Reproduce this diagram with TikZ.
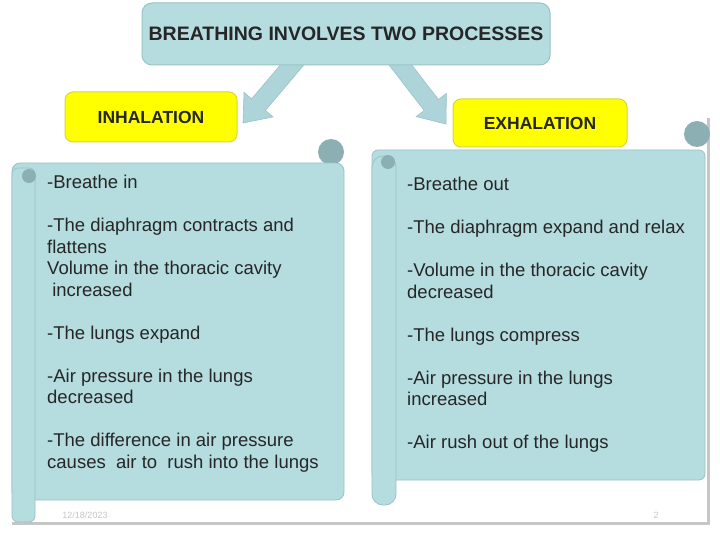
\documentclass[tikz,border=0pt]{standalone}
\usepackage{fontspec}
\setmainfont{Liberation Sans}
\usetikzlibrary{calc}
\definecolor{scrollfill}{HTML}{B5DCDF}
\definecolor{scrollline}{HTML}{9BC2C5}
\definecolor{curl}{HTML}{8BAFB2}
\definecolor{arrowfill}{HTML}{ADD4D8}
\definecolor{yel}{HTML}{FFFF00}
\definecolor{yelline}{HTML}{D6D640}
\definecolor{frame}{HTML}{C6C6C6}
\definecolor{txt}{HTML}{262626}
\tikzset{
  titlebox/.style={draw=scrollline, fill=scrollfill, rounded corners=10pt, line width=1pt,
    text=txt, font=\bfseries\fontsize{19.5}{22}\selectfont},
  ybox/.style={draw=yelline, fill=yel, rounded corners=8pt, line width=1pt,
    text=txt, font=\bfseries\fontsize{17.5}{20}\selectfont},
  scrollbody/.style={draw=scrollline, fill=scrollfill, line width=0.8pt},
  curlball/.style={fill=curl},
  bigarrow/.style={fill=arrowfill, draw=scrollline, line width=0.6pt},
  scrolltext/.style={anchor=north west, inner sep=0pt, align=left, text=txt,
    font=\fontsize{18.5}{21.5}\selectfont},
  footer/.style={text=frame, font=\fontsize{9}{10}\selectfont},
}
\begin{document}
\begin{tikzpicture}[x=1pt,y=-1pt]
\useasboundingbox (0,0) rectangle (720,540);
\fill[white] (0,0) rectangle (720,540);

% frame shadow
\draw[frame, line width=3pt] (12,523) -- (708,523) -- (708,118);

% arrows
\coordinate (s1) at (298,58);
\coordinate (e1) at (243,123);
\coordinate (h1) at ($(e1)!24pt!(s1)$);
\filldraw[bigarrow] ($(s1)!9pt!90:(e1)$) -- ($(h1)!9pt!90:(e1)$) -- ($(h1)!19pt!90:(e1)$) -- (e1)
  -- ($(h1)!19pt!-90:(e1)$) -- ($(h1)!9pt!-90:(e1)$) -- ($(s1)!9pt!-90:(e1)$) -- cycle;
\coordinate (s2) at (395,58);
\coordinate (e2) at (446,124);
\coordinate (h2) at ($(e2)!24pt!(s2)$);
\filldraw[bigarrow] ($(s2)!9pt!90:(e2)$) -- ($(h2)!9pt!90:(e2)$) -- ($(h2)!19pt!90:(e2)$) -- (e2)
  -- ($(h2)!19pt!-90:(e2)$) -- ($(h2)!9pt!-90:(e2)$) -- ($(s2)!9pt!-90:(e2)$) -- cycle;

% title
\node[titlebox, minimum width=408pt, minimum height=62pt] (title) at (346,34) {BREATHING INVOLVES TWO PROCESSES};

% yellow labels
\node[ybox, minimum width=172pt, minimum height=50pt] (inh) at (151,117) {INHALATION};
\node[ybox, minimum width=174pt, minimum height=48pt] (exh) at (540,123) {EXHALATION};

% left scroll
\fill[curlball] (331,152) circle (13);
\filldraw[scrollbody, rounded corners=8pt] (12,163) -- (344,163) -- (344,500) -- (12,500) -- cycle;
\filldraw[scrollbody, rounded corners=6pt] (12,168) rectangle (35,522);
\fill[curlball] (29,176) circle (7);

% right scroll
\fill[curlball] (697,134) circle (13);
\filldraw[scrollbody, rounded corners=6pt] (372,150) -- (705,150) -- (705,480) -- (372,480) -- cycle;
\filldraw[scrollbody, rounded corners=11pt] (372,156) rectangle (396,505);
\fill[curlball] (388,162) circle (7);

% texts
\node[scrolltext] (ltext) at (47,175) {-Breathe in\\[21.5pt]
-The diaphragm contracts and\\
flattens\\
Volume in the thoracic cavity\\
\ increased\\[21.5pt]
-The lungs expand\\[21.5pt]
-Air pressure in the lungs\\
decreased\\[21.5pt]
-The difference in air pressure\\
causes\ \ air to\ \ rush into the lungs};

\node[scrolltext] (rtext) at (407,177) {-Breathe out\\[21.5pt]
-The diaphragm expand and relax\\[21.5pt]
-Volume in the thoracic cavity\\
decreased\\[21.5pt]
-The lungs compress\\[21.5pt]
-Air pressure in the lungs\\
increased\\[21.5pt]
-Air rush out of the lungs};

% footer
\node[footer] (date) at (85,515) {12/18/2023};
\node[footer] (pg) at (656,515) {2};
\end{tikzpicture}
\end{document}
